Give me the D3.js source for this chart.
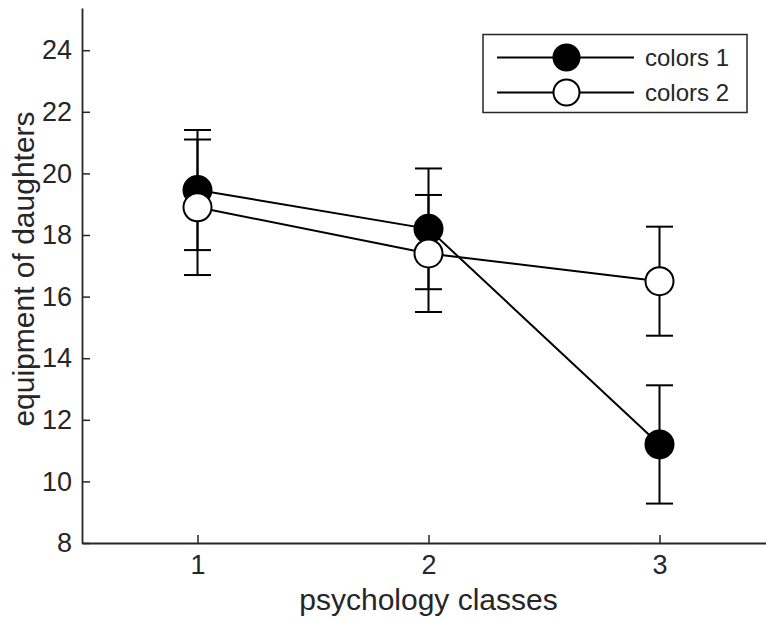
<!DOCTYPE html>
<html>
<head>
<meta charset="utf-8">
<script src="https://cdn.jsdelivr.net/npm/d3@7"></script>
<style>
  body { margin: 0; background: #fff; }
  text { font-family: "Liberation Sans", Arial, sans-serif; fill: #262626; }
</style>
</head>
<body>
<svg id="chart" width="766" height="622"></svg>
<script>
// data
const classes = [1, 2, 3];
const colors1 = [19.46, 18.2, 11.2];
const colors1Err = [1.95, 1.96, 1.92];
const colors2 = [18.9, 17.4, 16.5];
const colors2Err = [2.2, 1.9, 1.77];
const yTicks = [8, 10, 12, 14, 16, 18, 20, 22, 24];
const seriesNames = ["colors 1", "colors 2"];
const seriesFill = ["#000", "#fff"];

const svg = d3.select("#chart");

const x = d3.scaleLinear().domain([0.5, 3.5]).range([82, 775]);
const y = d3.scaleLinear().domain([8, 25.37]).range([543, 8]);

// axes
const yAxis = svg.append("g")
    .attr("transform", "translate(82,0)")
    .call(d3.axisLeft(y).tickValues(yTicks).tickFormat(d3.format("d"))
      .tickSizeInner(-8).tickSizeOuter(0).tickPadding(10));

const xAxis = svg.append("g")
    .attr("transform", "translate(0,543)")
    .call(d3.axisBottom(x).tickValues(classes).tickFormat(d3.format("d"))
      .tickSizeInner(-8).tickSizeOuter(0).tickPadding(12));

[yAxis, xAxis].forEach(a => {
  a.select(".domain").attr("stroke", "#262626").attr("stroke-width", 1.8);
  a.selectAll(".tick line").attr("stroke", "#262626").attr("stroke-width", 1.5);
  a.selectAll(".tick text").attr("font-size", 27).attr("fill", "#262626")
      .style("font-family", "Liberation Sans, Arial, sans-serif");
});
xAxis.selectAll(".tick text").attr("dy", "0.71em");

svg.append("text")
    .attr("x", x(2))
    .attr("y", 610)
    .attr("text-anchor", "middle")
    .attr("font-size", 30)
    .text("psychology classes");

svg.append("text")
    .attr("transform", "translate(34," + 269 + ") rotate(-90)")
    .attr("text-anchor", "middle")
    .attr("font-size", 30)
    .text("equipment of daughters");

const series = [
  { name: seriesNames[0], vals: colors1, err: colors1Err, fill: seriesFill[0] },
  { name: seriesNames[1], vals: colors2, err: colors2Err, fill: seriesFill[1] }
];

const line = d3.line().x((d, i) => x(classes[i])).y(d => y(d));
const cap = 13.5, r = 14;

series.forEach(s => {
  const g = svg.append("g");
  s.vals.forEach((v, i) => {
    const cx = x(classes[i]);
    const lo = y(v - s.err[i]), hi = y(v + s.err[i]);
    g.append("line").attr("x1", cx).attr("x2", cx).attr("y1", lo).attr("y2", hi)
        .attr("stroke", "#000").attr("stroke-width", 2);
    [lo, hi].forEach(yy => {
      g.append("line").attr("x1", cx - cap).attr("x2", cx + cap).attr("y1", yy).attr("y2", yy)
          .attr("stroke", "#000").attr("stroke-width", 2);
    });
  });
  g.append("path").datum(s.vals).attr("d", line)
      .attr("fill", "none").attr("stroke", "#000").attr("stroke-width", 2);
  g.selectAll("circle").data(s.vals).enter().append("circle")
      .attr("cx", (d, i) => x(classes[i]))
      .attr("cy", d => y(d))
      .attr("r", r)
      .attr("fill", s.fill)
      .attr("stroke", "#000")
      .attr("stroke-width", 2);
});

// legend
const lg = svg.append("g");
lg.append("rect").attr("x", 483).attr("y", 34.5).attr("width", 264).attr("height", 78)
    .attr("fill", "#fff").attr("stroke", "#262626").attr("stroke-width", 1.5);
series.forEach((s, i) => {
  const ly = 57.5 + i * 35;
  lg.append("line").attr("x1", 497).attr("x2", 634).attr("y1", ly).attr("y2", ly)
      .attr("stroke", "#000").attr("stroke-width", 2);
  lg.append("circle").attr("cx", 566.5).attr("cy", ly).attr("r", 13)
      .attr("fill", s.fill).attr("stroke", "#000").attr("stroke-width", 2);
  lg.append("text").attr("x", 645).attr("y", ly).attr("dy", "0.35em")
      .attr("font-size", 24).text(s.name);
});
</script>
</body>
</html>
